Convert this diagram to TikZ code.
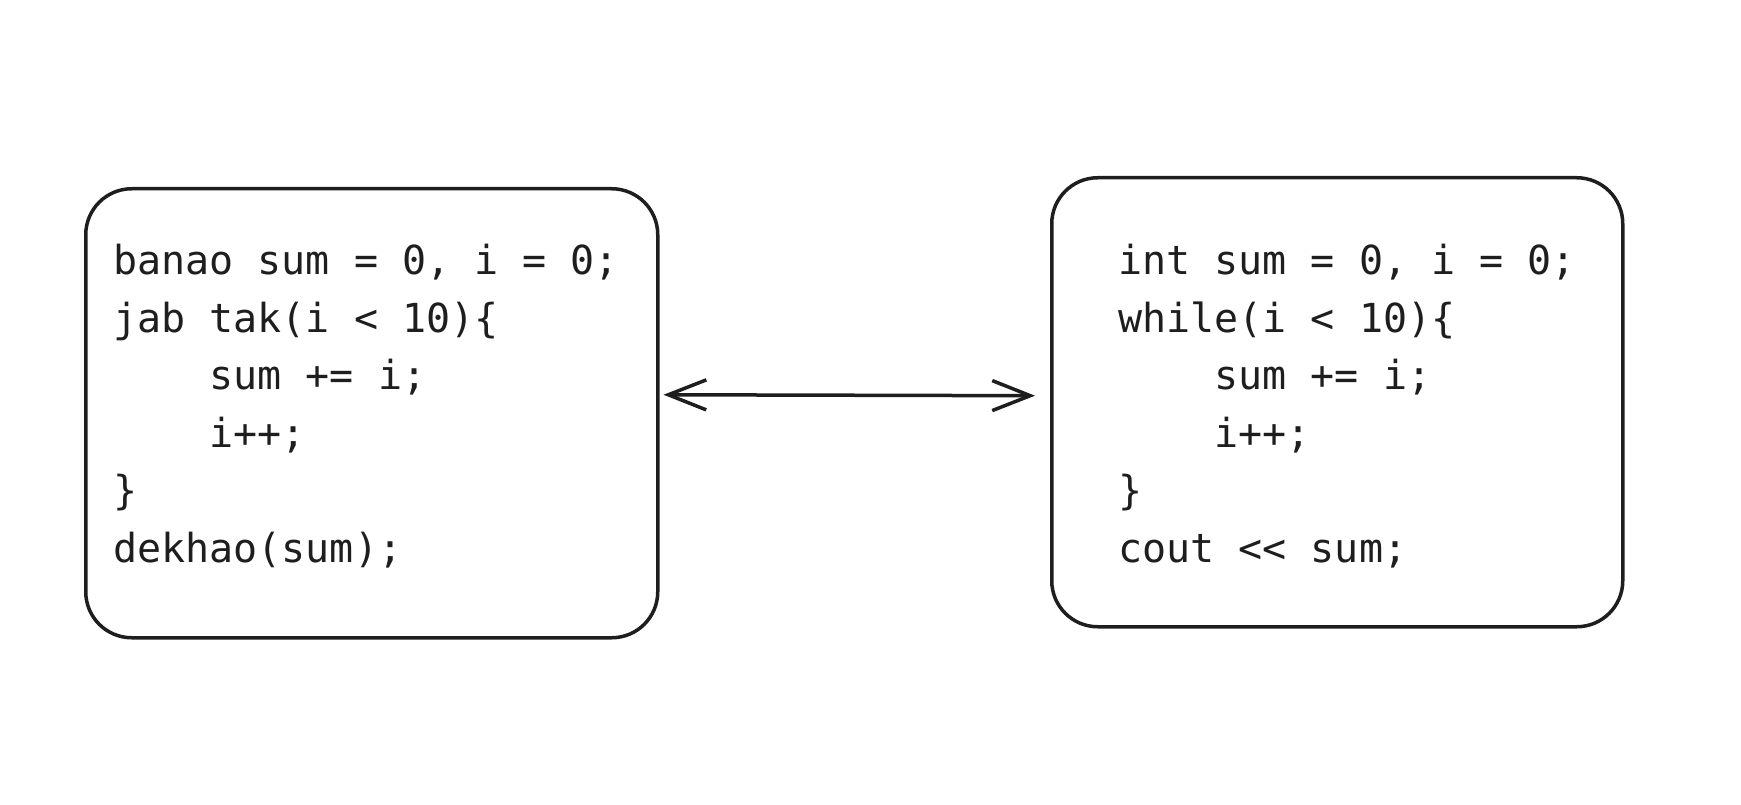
\documentclass[tikz,border=0pt]{standalone}
\usepackage{fontspec}
\setmonofont{DejaVu Sans Mono}
\usetikzlibrary{arrows.meta}
\definecolor{ink}{HTML}{1E1E1E}
\begin{document}
\begin{tikzpicture}[x=1pt,y=-1pt,
  box/.style={draw=ink,line width=3.5pt,rounded corners=46pt,inner sep=0pt,anchor=north west},
  code/.style={text=ink,font=\ttfamily\fontsize{40}{57.5}\selectfont,execute at begin node={\spaceskip=24.1pt\relax},text width=620pt,align=left,inner sep=0pt,anchor=base west},
  arr/.style={draw=ink,line width=3.5pt,line cap=round,{Straight Barb[length=38pt,width=30pt]}-{Straight Barb[length=38pt,width=30pt]}}]
\useasboundingbox (0,0) rectangle (1741,805);
\fill[white] (0,0) rectangle (1741,805);
\node[box,minimum width=572pt,minimum height=449pt] (L) at (84,187) {};
\node[box,minimum width=571pt,minimum height=449pt] (R) at (1050,176) {};
\node[code] (Lt) at (113,275) {banao sum = 0, i = 0;\\
jab tak(i < 10)\{\\
\phantom{0000}sum += i;\\
\phantom{0000}i++;\\
\}\\
dekhao(sum);};
\node[code] (Rt) at (1118,275) {int sum = 0, i = 0;\\
while(i < 10)\{\\
\phantom{0000}sum += i;\\
\phantom{0000}i++;\\
\}\\
cout << sum;};
\draw[arr,shorten <=4pt,shorten >=15pt] ([yshift=18.5pt]L.east) -- ([yshift=6.5pt]R.west);
\end{tikzpicture}
\end{document}
